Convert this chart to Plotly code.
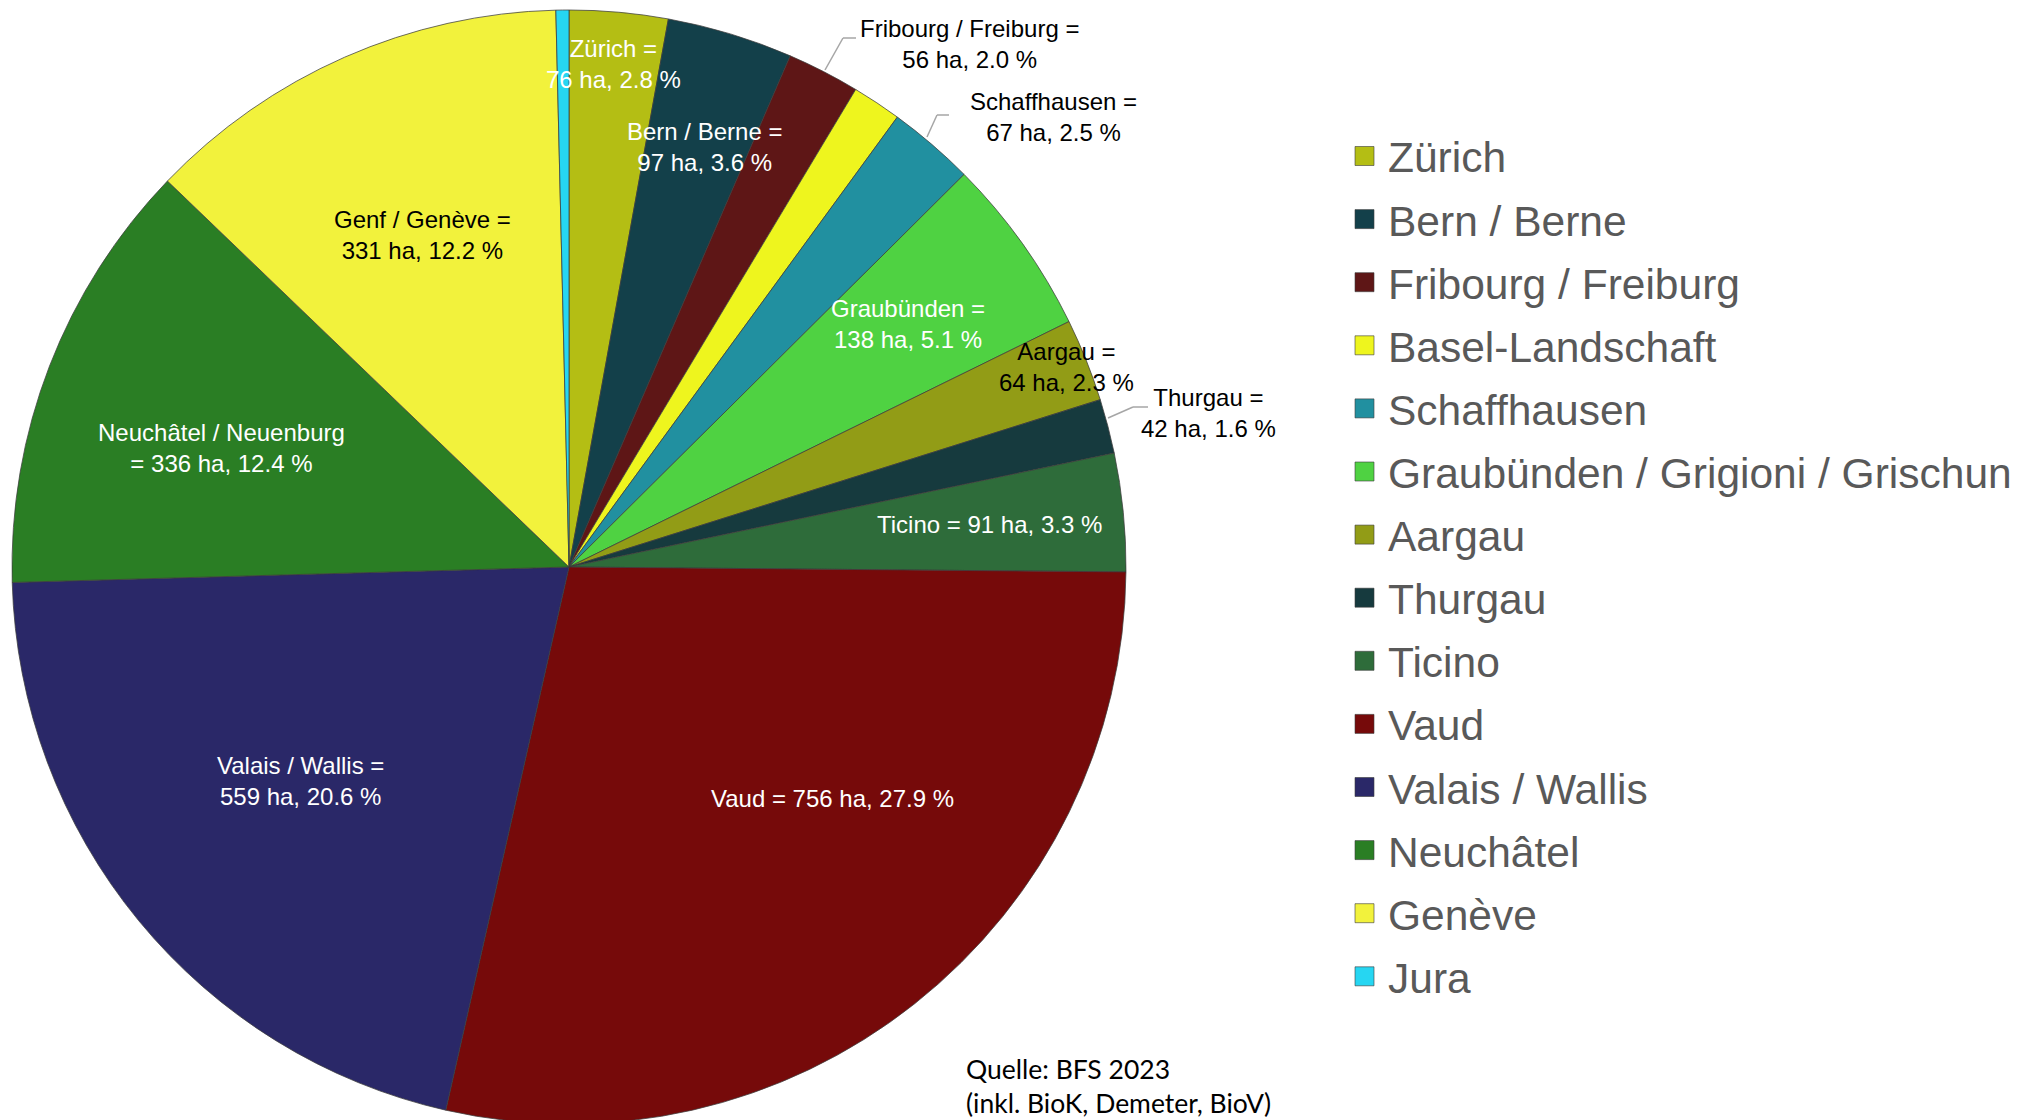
import plotly.graph_objects as go

# ---- data ----
cantons = ["Zürich", "Bern / Berne", "Fribourg / Freiburg", "Basel-Landschaft", "Schaffhausen",
           "Graubünden / Grigioni / Grischun", "Aargau", "Thurgau", "Ticino", "Vaud",
           "Valais / Wallis", "Neuchâtel", "Genève", "Jura"]
hectares = [76, 97, 56, 38, 67, 138, 64, 42, 91, 756, 559, 336, 331, 10]
shares = [2.8, 3.6, 2.0, 1.4, 2.5, 5.1, 2.3, 1.6, 3.3, 27.9, 20.6, 12.4, 12.2, 0.4]
slice_names = ["Zürich =", "Bern / Berne =", "Fribourg / Freiburg =", None, "Schaffhausen =",
               "Graubünden =", "Aargau =", "Thurgau =", "Ticino =", "Vaud =",
               "Valais / Wallis =", "Neuchâtel / Neuenburg", "Genf / Genève =", None]
colors = ["#B4BE14", "#13404A", "#5E1616", "#EEF51E", "#2190A0", "#4FD242", "#929C16",
          "#163A3E", "#2E6C3A", "#760A0A", "#2A2868", "#2A7E24", "#F2F23C", "#26D6F2"]
label_white = [True, True, False, None, False, True, False, False, True, True, True, True, False, None]
single_line = [False, False, False, None, False, False, False, False, True, True, False, False, False, None]
source_note = "Quelle: BFS 2023<br>(inkl. BioK, Demeter, BioV)"

W, H = 2038, 1120
OFF = 8  # page body margin offset
ML, MR, MT, MB = 0, 0, 2, 4
PW, PH = W - ML - MR, H - MT - MB


def px(x):
    # x given in screen pixels
    return (x - OFF - ML) / PW


def py(y):
    return (H - MB - (y - OFF)) / PH


cx = 569  # screen center x of the pie
fig = go.Figure()
fig.add_trace(go.Pie(
    labels=cantons, values=hectares, sort=False, direction="clockwise", rotation=0,
    marker=dict(colors=colors, line=dict(color="rgba(60,60,60,0.75)", width=1)),
    textinfo="none", hoverinfo="label+value+percent", showlegend=False,
    domain=dict(x=[px(cx - PH / 2), px(cx + PH / 2)], y=[0, 1]),
))

# ---- slice labels (layout positions in screen pixels) ----
label_pos = [(613, 64), (704, 147), (969, 44), None, (1053, 117), (908, 324), (1066, 367),
             (1208, 413), (989, 524), (832, 798), (300, 781), (221, 448), (422, 235), None]
annotations = []
for i, name in enumerate(slice_names):
    if name is None:
        continue
    if i == 11:
        txt = f"{name}<br>= {hectares[i]} ha, {shares[i]:.1f} %"
    elif single_line[i]:
        txt = f"{name} {hectares[i]} ha, {shares[i]:.1f} %"
    else:
        txt = f"{name}<br>{hectares[i]} ha, {shares[i]:.1f} %"
    x, y = label_pos[i]
    annotations.append(dict(
        x=px(x), y=py(y), xref="paper", yref="paper", text=txt, showarrow=False,
        xanchor="center", yanchor="middle", align="center",
        font=dict(family="Liberation Sans, Arial", size=24,
                  color="white" if label_white[i] else "black"),
    ))

# ---- leader lines ----
shapes = []
leaders = [
    [(825, 70), (843, 38), (856, 38)],      # Fribourg
    [(927, 137), (937, 115), (949, 115)],   # Schaffhausen
    [(1108, 418), (1133, 407), (1148, 407)],  # Thurgau
]
for pts in leaders:
    for (x0, y0), (x1, y1) in zip(pts[:-1], pts[1:]):
        shapes.append(dict(type="line", xref="paper", yref="paper",
                           x0=px(x0), y0=py(y0), x1=px(x1), y1=py(y1),
                           line=dict(color="#A6A6A6", width=1.5)))

# ---- legend (manual, generated from data lists) ----
leg_x_sq, leg_x_txt, leg_y0, leg_dy, sq = 1355, 1386, 156, 63.1, 19
for i, (name, col) in enumerate(zip(cantons, colors)):
    yc = leg_y0 + i * leg_dy
    shapes.append(dict(type="rect", xref="paper", yref="paper",
                       x0=px(leg_x_sq), x1=px(leg_x_sq + sq),
                       y0=py(yc + sq / 2), y1=py(yc - sq / 2),
                       fillcolor=col, line=dict(color="rgba(60,60,60,0.6)", width=1)))
    annotations.append(dict(
        x=px(leg_x_txt), y=py(yc + 2), xref="paper", yref="paper", text=name,
        showarrow=False, xanchor="left", yanchor="middle", align="left",
        font=dict(family="Liberation Sans, Arial", size=42.5, color="#595959"),
    ))

annotations.append(dict(
    x=px(964), y=py(1086), xref="paper", yref="paper", text=source_note,
    showarrow=False, xanchor="left", yanchor="middle", align="left",
    font=dict(family="Lato, Open Sans", size=26.5, color="black"),
))

fig.update_layout(
    width=W, height=H, margin=dict(l=ML, r=MR, t=MT, b=MB),
    paper_bgcolor="white", plot_bgcolor="white",
    showlegend=False, annotations=annotations, shapes=shapes,
)

fig.write_html("out.html")
